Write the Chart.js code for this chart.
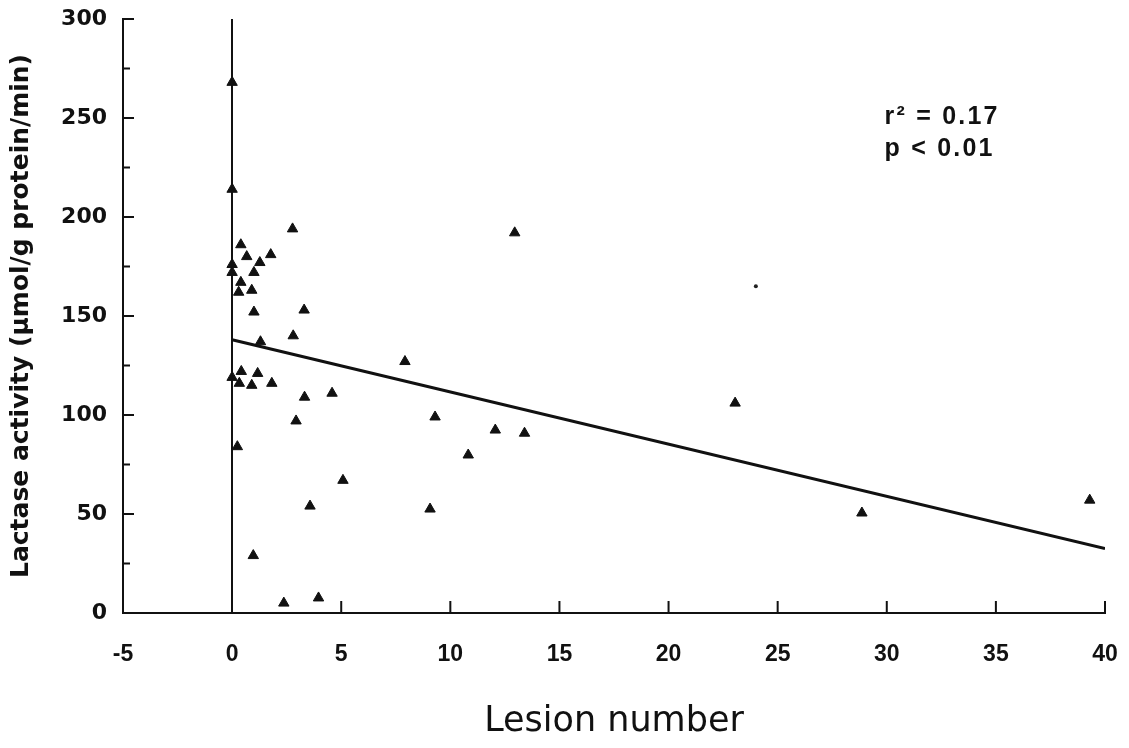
<!DOCTYPE html>
<html>
<head>
<meta charset="utf-8">
<title>Lactase activity vs lesion number</title>
<script src="https://cdn.jsdelivr.net/npm/chart.js@4/dist/chart.umd.min.js"></script>
<style>
  html, body { margin: 0; padding: 0; background: #fff; }
  #wrap { width: 1129px; height: 748px; }
</style>
</head>
<body>
<div id="wrap"><canvas id="lactaseChart" width="1129" height="748"></canvas></div>
<script>
// lesion count (x) and lactase activity (y) per patient
const lesionNumber = [
  0, 0, 0, 0, 0.4, 0.67, 1.77, 1.27, 1.0, 0.4, 0.3, 0.9, 1.0, 2.77, 3.3, 2.8, 1.3,
  0, 0.42, 0.33, 1.17, 0.9, 1.82, 3.32, 4.58, 7.92, 9.3, 2.93, 0.24, 5.08, 3.57,
  9.07, 0.97, 2.37, 3.96, 12.95, 12.06, 13.4, 10.82, 23.05, 28.86, 39.3
];
const lactaseActivity = [
  268, 214, 176, 172, 186, 180, 181, 177, 172, 167, 162, 163, 152, 194, 153, 140, 137,
  119, 122, 116, 121, 115, 116, 109, 111, 127, 99, 97, 84, 67, 54,
  52.5, 29, 5, 7.6, 192, 92.4, 90.8, 79.8, 106, 50.5, 57
];
// one point that only printed as a small dot
const faintLesion = [24.0];
const faintActivity = [165];

// regression line end points
const fitX = [0, 40];
const fitY = [138, 32.5];

const xTicks = { min: -5, max: 40, step: 5 };
const yTicks = { min: 0, max: 300, step: 25, labelEvery: 50 };

const statsText = ['r\u00B2 = 0.17', 'p < 0.01'];

const toPoints = (xs, ys) => xs.map((x, i) => ({ x: x, y: ys[i] }));

// short tick marks pointing into the plot
const innerTicks = {
  id: 'innerTicks',
  afterDraw(chart) {
    const { ctx, scales: { x, y } } = chart;
    ctx.save();
    ctx.strokeStyle = '#111';
    ctx.lineWidth = 2;
    ctx.beginPath();
    y.ticks.forEach(t => {
      if (t.value <= yTicks.min) return;
      const py = y.getPixelForValue(t.value);
      const len = t.value % yTicks.labelEvery === 0 ? 11 : 7;
      ctx.moveTo(y.right, py);
      ctx.lineTo(y.right + len, py);
    });
    x.ticks.forEach(t => {
      if (t.value <= 0) return;
      const px = x.getPixelForValue(t.value);
      ctx.moveTo(px, x.top);
      ctx.lineTo(px, x.top - 12);
    });
    ctx.stroke();
    ctx.restore();
  }
};

// r² / p text block
const statsLabel = {
  id: 'statsLabel',
  afterDraw(chart, args, opts) {
    const { ctx, scales: { x, y } } = chart;
    ctx.save();
    ctx.fillStyle = '#111';
    ctx.font = 'bold 25px "Liberation Sans", Arial, sans-serif';
    ctx.letterSpacing = '2.2px';
    ctx.textBaseline = 'middle';
    ctx.textAlign = 'left';
    statsText.forEach((line, i) => {
      ctx.fillText(line, x.getPixelForValue(opts.x), y.getPixelForValue(opts.y[i]));
    });
    ctx.restore();
  }
};

new Chart(document.getElementById('lactaseChart'), {
  type: 'scatter',
  data: {
    datasets: [
      {
        label: 'Patients',
        data: toPoints(lesionNumber, lactaseActivity),
        pointStyle: 'triangle',
        pointRadius: 6,
        pointBackgroundColor: '#111',
        pointBorderColor: '#111',
        pointBorderWidth: 1
      },
      {
        label: 'Faint',
        data: toPoints(faintLesion, faintActivity),
        pointStyle: 'circle',
        pointRadius: 2,
        pointBackgroundColor: '#222',
        pointBorderColor: '#222',
        pointBorderWidth: 0
      },
      {
        type: 'line',
        label: 'Regression',
        data: toPoints(fitX, fitY),
        borderColor: '#111',
        borderWidth: 3,
        pointRadius: 0,
        fill: false
      }
    ]
  },
  options: {
    responsive: false,
    animation: false,
    layout: { padding: { left: 0, right: 24, top: 19, bottom: 4 } },
    plugins: {
      legend: { display: false },
      tooltip: { enabled: false },
      statsLabel: { x: 29.9, y: [250.5, 234.5] }
    },
    scales: {
      x: {
        type: 'linear',
        min: xTicks.min,
        max: xTicks.max,
        afterFit(scale) { scale.height = 131; },
        ticks: {
          stepSize: xTicks.step,
          color: '#111',
          padding: 0,
          font: { family: '"Liberation Sans", Arial, sans-serif', size: 23, weight: 'bold' }
        },
        grid: {
          drawTicks: true,
          tickLength: 28,
          tickColor: 'rgba(0,0,0,0)',
          lineWidth: 2,
          // the only vertical rule is the one at zero lesions
          color: ctx => (ctx.tick && ctx.tick.value === 0 ? '#111' : 'rgba(0,0,0,0)')
        },
        border: { display: true, color: '#111', width: 2 },
        title: {
          display: true,
          text: 'Lesion number',
          color: '#111',
          padding: { top: 0, bottom: 1 },
          font: { family: '"DejaVu Sans", sans-serif', size: 35, weight: 'normal' }
        }
      },
      y: {
        type: 'linear',
        min: yTicks.min,
        max: yTicks.max,
        afterFit(scale) { scale.width = 123; },
        ticks: {
          stepSize: yTicks.step,
          color: '#111',
          padding: 0,
          font: { family: '"DejaVu Sans", sans-serif', size: 22, weight: 'bold' },
          callback: v => (v % yTicks.labelEvery === 0 ? String(v) : '')
        },
        grid: { display: false, drawTicks: true, tickLength: 16 },
        border: { display: true, color: '#111', width: 2 },
        title: {
          display: true,
          text: 'Lactase activity (\u00B5mol/g protein/min)',
          color: '#111',
          padding: { top: 6, bottom: 0 },
          font: { family: '"DejaVu Sans", sans-serif', size: 25, weight: 'bold' }
        }
      }
    }
  },
  plugins: [innerTicks, statsLabel]
});
</script>
</body>
</html>
